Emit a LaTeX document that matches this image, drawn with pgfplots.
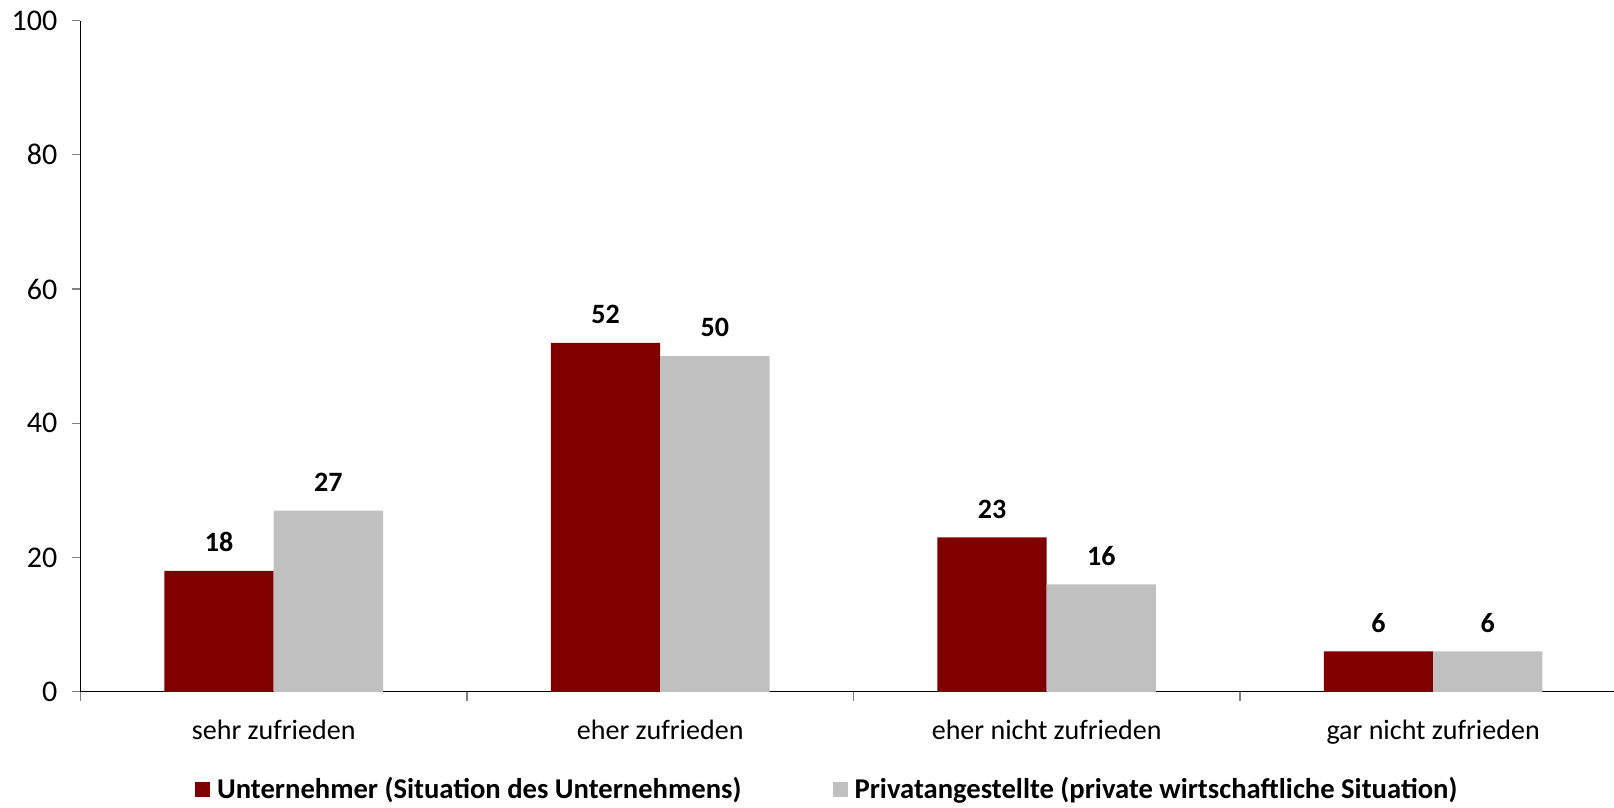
\documentclass[border=0pt]{standalone}
\usepackage{pgfplots}
\pgfplotsset{compat=1.18}
\usepackage{fontspec}
\setmainfont{Carlito}
\definecolor{unred}{HTML}{800000}
\definecolor{prgrey}{HTML}{C0C0C0}
\begin{document}
\begin{tikzpicture}
\begin{axis}[
    scale only axis,
    width=765.9pt,
    height=335.2pt,
    ybar=0pt,
    bar width=54.6pt,
    xmin=-0.5, xmax=3.468,
    ymin=0, ymax=100,
    ytick={0,20,...,100},
    xtick={0,1,2,3},
    xticklabels={sehr zufrieden, eher zufrieden, eher nicht zufrieden, gar nicht zufrieden},
    minor xtick={-0.5,0.5,1.5,2.5},
    major x tick style={draw=none},
    minor tick length=4.5pt,
    major tick length=4pt,
    tick align=outside,
    tick style={gray, line width=0.6pt},
    axis x line*=bottom,
    axis y line*=left,
    axis line style={black, line width=0.6pt},
    /pgf/number format/assume math mode=true,
    ticklabel style={font=\fontsize{14}{17}\selectfont},
    yticklabel style={xshift=-4pt, font=\fontsize{15}{17}\selectfont},
    xticklabel style={yshift=-6.5pt},
    nodes near coords,
    nodes near coords style={font=\fontsize{14}{17}\selectfont\bfseries, black, yshift=6pt},
    legend style={at={(0.4876,-0.146)}, anchor=center, draw=none, inner sep=0pt,
        legend columns=2, font=\fontsize{14.3}{17}\selectfont\bfseries,
        /tikz/every even column/.append style={column sep=43.5pt}},
    legend image code/.code={\fill[#1] (0pt,-3.75pt) rectangle (7.5pt,3.75pt); \path (9pt,0pt);},
]
\addplot[fill=unred, draw=none] coordinates {(0,18) (1,52) (2,23) (3,6)};
\addplot[fill=prgrey, draw=none] coordinates {(0,27) (1,50) (2,16) (3,6)};
\legend{Unternehmer (Situation des Unternehmens), Privatangestellte (private wirtschaftliche Situation)}
\end{axis}
% page frame as in the reference
\path (current axis.north east) ++(0pt,10.3pt) coordinate (tr);
\path (current axis.south west) ++(-40.2pt,-57.8pt) coordinate (bl);
\pgfresetboundingbox
\useasboundingbox (bl) rectangle (tr);
\end{tikzpicture}
\end{document}
